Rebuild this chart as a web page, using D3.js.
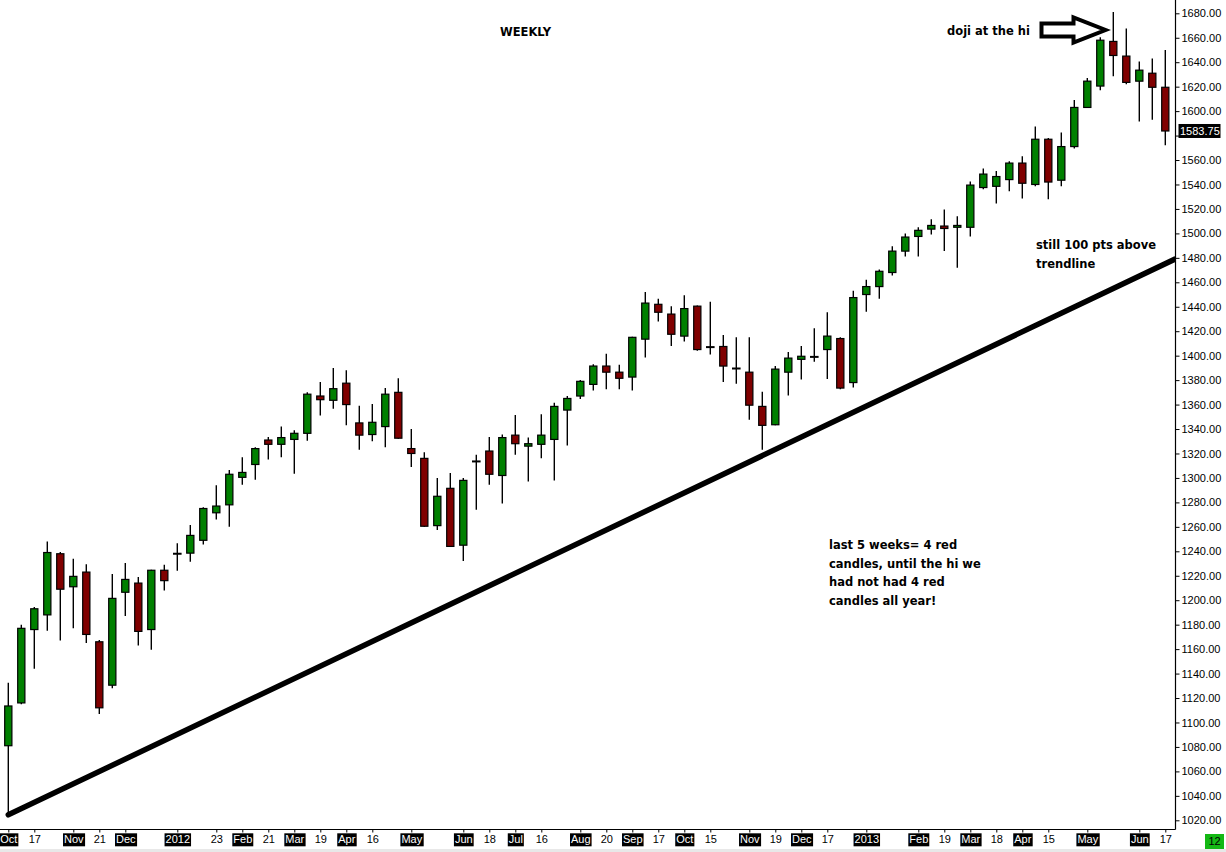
<!DOCTYPE html>
<html>
<head>
<meta charset="utf-8">
<title>WEEKLY</title>
<script src="https://cdn.jsdelivr.net/npm/d3@7"></script>
<style>
  html, body { margin: 0; padding: 0; background: #fff; }
  svg { display: block; }
  .axis text { font-family: "Liberation Sans", Arial, sans-serif; font-size: 11px; fill: #000; }
  .note { font-family: "DejaVu Sans", Verdana, sans-serif; font-size: 11.5px; font-weight: bold; fill: #000; }
</style>
</head>
<body>
<svg id="chart" width="1226" height="852"></svg>
<script>
// weekly candles, week of Oct 3 2011 .. week of Jun 17 2013

const opens = [
  1081, 1116, 1176, 1188, 1238, 1211, 1223, 1166, 1130.5, 1206.5,
  1214, 1176, 1224.5, 1238, 1238.5, 1249, 1271.5, 1278, 1300.5, 1311,
  1331, 1327.5, 1331.5, 1336.5, 1367, 1363.5, 1377.5, 1345, 1335.5, 1342,
  1370, 1324, 1316, 1261, 1291.5, 1245, 1313.5, 1322, 1302, 1335,
  1326, 1327.5, 1331.5, 1355.5, 1367, 1376.5, 1391.5, 1386.5, 1382.5, 1413.5,
  1442, 1434, 1416, 1440.5, 1407, 1407.5, 1389.5, 1386.5, 1358.5, 1343.5,
  1386.5, 1397, 1399, 1405, 1414, 1378, 1450, 1456.5, 1468, 1485.5,
  1497.5, 1503.5, 1506, 1505, 1505, 1537.5, 1538.5, 1544, 1557.5, 1540,
  1577, 1543.5, 1571, 1603, 1620.5, 1657, 1645, 1624.5, 1631, 1619.5
];
const highs = [
  1132.5, 1180, 1194.5, 1248, 1239.5, 1234, 1229.5, 1167.5, 1221.5, 1230.5,
  1219, 1225, 1229, 1246.5, 1261.5, 1276, 1294, 1306.5, 1317, 1325,
  1333.5, 1342, 1339, 1370, 1378.5, 1390, 1388, 1359, 1360.5, 1373.5,
  1381.5, 1340, 1321, 1300, 1304, 1300, 1319, 1333.5, 1335.5, 1351.5,
  1333, 1352, 1361.5, 1367, 1380, 1393, 1401.5, 1392.5, 1415.5, 1452,
  1446.5, 1440.5, 1449.5, 1441, 1444, 1417, 1415, 1415, 1370.5, 1391.5,
  1403, 1408, 1422.5, 1435.5, 1415, 1453, 1462, 1470.5, 1489.5, 1500,
  1505, 1511.5, 1519.5, 1514, 1542.5, 1553, 1551, 1559, 1563, 1587.5,
  1578, 1582.5, 1609, 1627, 1660.5, 1681, 1667.5, 1640.5, 1643, 1650
];
const lows = [
  1024.5, 1115, 1144, 1175, 1167, 1177, 1165, 1107, 1128, 1187,
  1163, 1159.5, 1208, 1224, 1231.5, 1245.5, 1266, 1260, 1294.5, 1298.5,
  1315, 1317, 1303.5, 1330.5, 1351, 1356.5, 1343, 1323, 1330, 1325,
  1332, 1309, 1260, 1257.5, 1244, 1232, 1274, 1294.5, 1279, 1319,
  1297, 1316, 1298, 1326.5, 1364.5, 1371.5, 1372.5, 1372.5, 1371.5, 1398.5,
  1428, 1408, 1411.5, 1404, 1401, 1378.5, 1377, 1347.5, 1323, 1343,
  1367.5, 1380.5, 1395, 1381, 1372.5, 1374, 1436, 1446.5, 1465.5, 1481,
  1481, 1499, 1485.5, 1472, 1497.5, 1536, 1524.5, 1534.5, 1528.5, 1538.5,
  1528, 1538.5, 1569.5, 1602.5, 1617, 1628.5, 1622, 1591.5, 1593, 1572
];
const closes = [
  1113.5, 1177, 1193, 1239, 1209, 1219.5, 1172, 1112, 1201.5, 1217,
  1174.5, 1224.5, 1216, 1238, 1253, 1275, 1277, 1303, 1304.5, 1324,
  1327.5, 1333, 1336.5, 1368.5, 1364, 1373, 1360, 1335, 1345.5, 1368.5,
  1332.5, 1320, 1260.5, 1285, 1244, 1298, 1313.5, 1303, 1333, 1328,
  1328, 1335, 1358.5, 1365, 1379, 1391.5, 1386.5, 1381.5, 1415, 1443,
  1435.5, 1417.5, 1438.5, 1405, 1407, 1391.5, 1389.5, 1359.5, 1343, 1389,
  1398, 1399.5, 1399, 1416, 1373.5, 1447.5, 1456.5, 1469, 1485.5, 1497,
  1502.5, 1506.5, 1504, 1506.5, 1539.5, 1548.5, 1546.5, 1557.5, 1541, 1577,
  1542, 1571, 1603, 1624.5, 1658, 1645.5, 1623.5, 1633.5, 1619.5, 1583.75
];

// x axis: week index -> label (months boxed)
const tickWeeks = [0, 2, 5, 7, 9, 13, 16, 18, 20, 22, 24, 26, 28, 31, 35, 37, 39, 41, 44, 46,
                   48, 50, 52, 54, 57, 59, 61, 63, 66, 70, 72, 74, 76, 78, 80, 83, 87, 89];
const tickLabels = ["Oct", "17", "Nov", "21", "Dec", "2012", "23", "Feb", "21", "Mar",
                    "19", "Apr", "16", "May", "Jun", "18", "Jul", "16", "Aug", "20",
                    "Sep", "17", "Oct", "15", "Nov", "19", "Dec", "17", "2013", "Feb",
                    "19", "Mar", "18", "Apr", "15", "May", "Jun", "17"];

const priceTicks = d3.range(1020, 1681, 20);

// trendline from the Oct 2011 low
const trendWeeks = [0, 89.75];
const trendPrices = [1024.5, 1479];

const lastPrice = 1583.75;

// ---- Layout ----

const W = 1226, H = 852;
const plotRight = 1175.5;
const plotBottom = 829.5;

const svg = d3.select("#chart");

const x = d3.scaleLinear().domain([0, 89]).range([8.3, 1165.3]);
const y = d3.scaleLinear().domain([1020, 1680]).range([820.3, 13.3]);

svg.append("defs").append("clipPath").attr("id", "plot-clip")
  .append("rect").attr("x", 0).attr("y", 0).attr("width", plotRight).attr("height", plotBottom);

// bottom gray strip
svg.append("rect").attr("x", 0).attr("y", 849).attr("width", W).attr("height", 3).attr("fill", "#e8e8e8");

const plot = svg.append("g").attr("clip-path", "url(#plot-clip)");

// ---- Trendline ----

const trend = trendWeeks.map((w, k) => [w, trendPrices[k]]);
plot.append("path")
  .datum(trend)
  .attr("d", d3.line().x(d => x(d[0])).y(d => y(d[1])))
  .attr("fill", "none")
  .attr("stroke", "#000")
  .attr("stroke-width", 5.5)
  .attr("stroke-linecap", "round");

// ---- Candles ----

const weeks = closes.map((c, i) => ({ i, o: opens[i], h: highs[i], l: lows[i], c }));

plot.selectAll(".wick").data(weeks).enter().append("line")
  .attr("class", "wick")
  .attr("x1", d => x(d.i)).attr("x2", d => x(d.i))
  .attr("y1", d => y(d.h)).attr("y2", d => y(d.l))
  .attr("stroke", "#000").attr("stroke-width", 1.4);

plot.selectAll(".body").data(weeks.filter(d => d.o !== d.c)).enter().append("rect")
  .attr("class", "body")
  .attr("x", d => x(d.i) - 3.6).attr("width", 7.2)
  .attr("y", d => y(Math.max(d.o, d.c)))
  .attr("height", d => Math.max(1, Math.abs(y(d.o) - y(d.c))))
  .attr("fill", d => d.c > d.o ? "#008000" : "#800000")
  .attr("stroke", "#000").attr("stroke-width", 1.2);

plot.selectAll(".doji").data(weeks.filter(d => d.o === d.c)).enter().append("line")
  .attr("class", "doji")
  .attr("x1", d => x(d.i) - 4.3).attr("x2", d => x(d.i) + 4.3)
  .attr("y1", d => y(d.c)).attr("y2", d => y(d.c))
  .attr("stroke", "#000").attr("stroke-width", 2);

// ---- Axes ----

const yAxis = svg.append("g")
  .attr("class", "axis")
  .attr("transform", `translate(${plotRight},0)`)
  .call(d3.axisRight(y).tickValues(priceTicks).tickSize(4).tickPadding(2).tickFormat(d3.format(".2f")));
yAxis.select(".domain").remove();
yAxis.selectAll(".tick line").attr("stroke", "#000");
// label hidden under the last-price tag
yAxis.selectAll(".tick text").filter(d => Math.abs(y(d) - y(lastPrice)) < 12).remove();

svg.append("line")
  .attr("x1", plotRight).attr("x2", plotRight)
  .attr("y1", 0).attr("y2", plotBottom)
  .attr("stroke", "#000").attr("stroke-width", 1.2);

// last price tag
const tag = svg.append("g").attr("class", "axis");
tag.append("rect")
  .attr("x", plotRight + 3).attr("y", y(lastPrice) - 7)
  .attr("width", 42).attr("height", 14).attr("fill", "#000");
tag.append("text")
  .attr("x", plotRight + 4.5).attr("y", y(lastPrice)).attr("dy", "0.35em")
  .style("fill", "#fff")
  .text(d3.format(".2f")(lastPrice));

const xAxis = svg.append("g")
  .attr("class", "axis")
  .attr("transform", `translate(0,${plotBottom})`)
  .call(d3.axisBottom(x).tickValues(tickWeeks).tickSize(3).tickPadding(3)
    .tickFormat((d, k) => tickLabels[k]));
xAxis.select(".domain").remove();
xAxis.selectAll(".tick line").attr("stroke", "#000");
xAxis.selectAll(".tick").each(function (d, k) {
  if (/^\d{1,2}$/.test(tickLabels[k])) return;
  const t = d3.select(this).select("text");
  const bb = t.node().getBBox();
  d3.select(this).insert("rect", "text")
    .attr("x", bb.x - 1).attr("y", bb.y)
    .attr("width", bb.width + 2).attr("height", bb.height + 1)
    .attr("fill", "#000");
  t.style("fill", "#fff");
});

svg.append("line")
  .attr("x1", 0).attr("x2", plotRight)
  .attr("y1", plotBottom).attr("y2", plotBottom)
  .attr("stroke", "#000").attr("stroke-width", 1.2);

// bar counter box
const counter = svg.append("g").attr("class", "axis");
counter.append("rect").attr("x", 1205).attr("y", 834).attr("width", 19).attr("height", 15).attr("fill", "#14b814");
counter.append("text").attr("x", 1214.5).attr("y", 841.5).attr("dy", "0.35em")
  .attr("text-anchor", "middle").text("12");

// ---- Notes ----

const notes = [
  { x: 500, y: 36, lines: ["WEEKLY"] },
  { x: 947, y: 35, lines: ["doji at the hi"] },
  { x: 1036, y: 249, lines: ["still 100 pts above", "trendline"] },
  { x: 829, y: 549, lines: ["last 5 weeks= 4 red", "candles, until the hi we", "had not had 4 red", "candles all year!"] }
];

notes.forEach(n => {
  const t = svg.append("text").attr("class", "note").attr("x", n.x).attr("y", n.y);
  n.lines.forEach((s, k) => {
    t.append("tspan").attr("x", n.x).attr("dy", k === 0 ? 0 : 18.6).text(s);
  });
});

// outline arrow pointing at the high
const tipX = 1105.5, tipY = 30;
const arrow = d3.path();
arrow.moveTo(tipX - 64, tipY - 6.5);
arrow.lineTo(tipX - 32, tipY - 6.5);
arrow.lineTo(tipX - 32, tipY - 12.5);
arrow.lineTo(tipX, tipY);
arrow.lineTo(tipX - 32, tipY + 12.5);
arrow.lineTo(tipX - 32, tipY + 6.5);
arrow.lineTo(tipX - 64, tipY + 6.5);
arrow.closePath();
svg.append("path")
  .attr("d", arrow.toString())
  .attr("fill", "#fff")
  .attr("stroke", "#000")
  .attr("stroke-width", 4)
  .attr("stroke-linejoin", "miter");
</script>
</body>
</html>
